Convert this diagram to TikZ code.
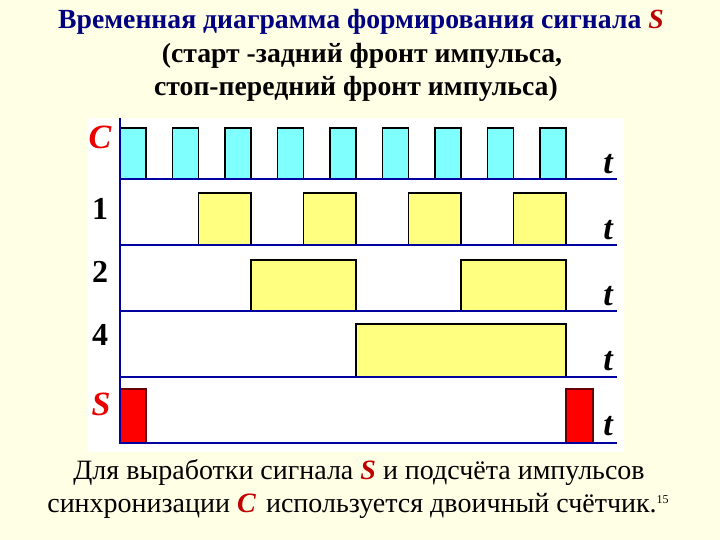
\documentclass[tikz,border=0pt]{standalone}
\usepackage{fontspec}
\setmainfont{Liberation Serif}
\usetikzlibrary{positioning}
\definecolor{bgyellow}{RGB}{255,255,230}
\definecolor{axisblue}{RGB}{0,0,160}
\definecolor{titleblue}{RGB}{0,0,128}
\definecolor{clkfill}{RGB}{128,255,255}
\definecolor{cntfill}{RGB}{255,255,128}
\definecolor{sigred}{RGB}{235,0,0}
\definecolor{darkred}{RGB}{190,0,0}
\tikzset{
	pulse/.style={draw=black,line width=1.8pt},
	clkpulse/.style={pulse,fill=clkfill},
	cntpulse/.style={pulse,fill=cntfill},
	spulse/.style={draw=black!60!red,line width=1.2pt,fill=red},
	axis/.style={draw=axisblue,line width=2.4pt},
	rowlabel/.style={font=\bfseries\fontsize{32}{32}\selectfont},
	redlabel/.style={font=\bfseries\itshape\fontsize{34}{34}\selectfont,text=sigred},
	tlabel/.style={font=\bfseries\itshape\fontsize{34}{34}\selectfont},
	title/.style={font=\bfseries\fontsize{27.7}{27.7}\selectfont},
	note/.style={font=\fontsize{28}{28}\selectfont}
}
\newcommand{\redS}{\textcolor{darkred}{\textbf{\textit{S}}}}
\newcommand{\redC}{\textcolor{darkred}{\textbf{\textit{C}}}}

\begin{document}
\begin{tikzpicture}[x=1pt,y=-1pt]
	\fill[bgyellow] (0,0) rectangle (720,540);
	\fill[white] (88,118) rectangle (624,452);
	
	% title
	\node[title,text=titleblue] (t1) at (361,22) {Временная диаграмма формирования сигнала \redS};
	\node[title] (t2) at (362,56) {(старт -задний фронт импульса,};
	\node[title] (t3) at (356,89) {стоп-передний фронт импульса)};
	
	% clock C
	\foreach \k in {0,...,8}
		\draw[clkpulse] ({120+52.5*\k},179) rectangle ({146+52.5*\k},128);
	% counter bits (edges at falling edges of C)
	\foreach \a in {1,3,5,7}
		\draw[cntpulse] ({146+52.5*\a},245) rectangle ({146+52.5*(\a+1)},193);
	\foreach \a in {2,6}
		\draw[cntpulse] ({146+52.5*\a},311) rectangle ({146+52.5*(\a+2)},260);
	\draw[cntpulse] ({146+52.5*4},377) rectangle ({146+52.5*8},324);
	% signal S
	\draw[spulse] (120,443) rectangle (146,389);
	\draw[spulse] (566,443) rectangle (593,389);
	
	% axes
	\draw[axisblue,line width=2pt] (120,118) -- (120,443);
	\foreach \y in {179,245,311,377,443}
		\draw[axis] (120,\y) -- (617,\y);
	
	% row labels
	\node[redlabel] (lC) at (100,137) {C};
	\node[rowlabel] (l1) at (100,209) {1};
	\node[rowlabel] (l2) at (100,272) {2};
	\node[rowlabel] (l4) at (100,335) {4};
	\node[redlabel] (lS) at (101,404) {S};
	\foreach \y [count=\i] in {164,230,296,361,426}
		\node[tlabel] (tt\i) at (608,\y) {t};
	
	% note
	\node[note] (n1) at (359,472) {Для выработки сигнала \redS{} и подсчёта импульсов};
	\node[note] (n2) at (358,506) {синхронизации \redC\ \kern3pt используется двоичный счётчик.\raisebox{9pt}{\fontsize{12}{12}\selectfont 15}};
\end{tikzpicture}
\end{document}
